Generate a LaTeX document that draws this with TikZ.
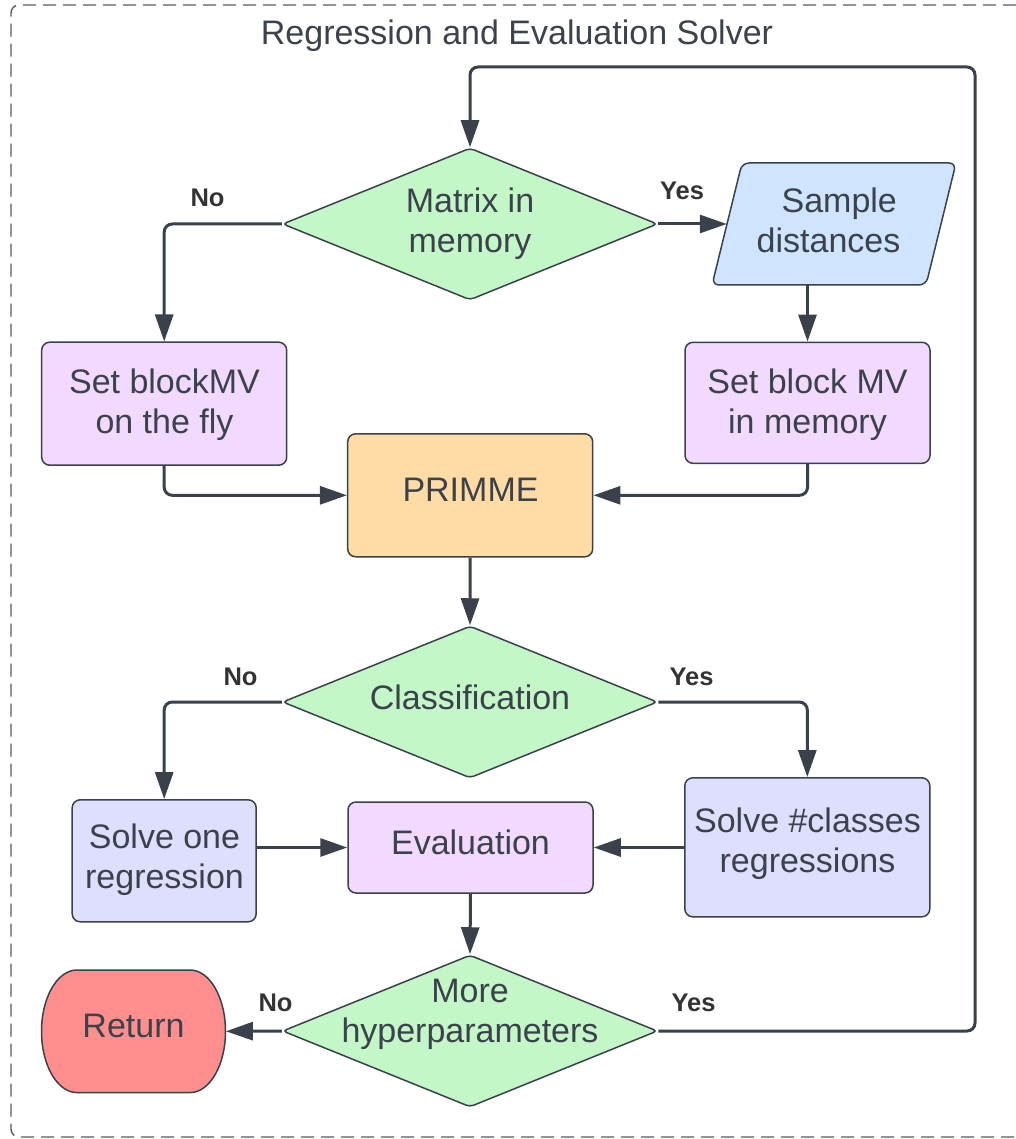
\documentclass[tikz,border=0pt]{standalone}
\usepackage{fontspec}
\setmainfont{Liberation Sans}
\usetikzlibrary{shapes.geometric,arrows.meta}
\definecolor{ink}{HTML}{3A414A}
\definecolor{txt}{HTML}{3B424B}
\definecolor{lbl}{HTML}{333333}
\definecolor{framec}{HTML}{555B63}
\definecolor{dgreen}{HTML}{C3F7C8}
\definecolor{pblue}{HTML}{CFE4FF}
\definecolor{plilac}{HTML}{F2D9FF}
\definecolor{pviolet}{HTML}{DEDEFF}
\definecolor{porange}{HTML}{FFDCA6}
\definecolor{pred}{HTML}{FF8F8F}

\begin{document}
\begin{tikzpicture}[x=1pt,y=-1pt,
  box/.style={draw=ink, line width=1.5pt, rounded corners=8pt, rectangle, inner sep=0pt},
  decision/.style={draw=ink, line width=1.5pt, diamond, rounded corners=4pt, fill=dgreen,
    inner sep=0pt, minimum width=375pt, minimum height=152pt},
  txtnode/.style={text=txt, align=center, inner sep=0pt, font=\fontsize{34}{40}\selectfont},
  lab/.style={text=lbl, inner sep=0pt, font=\fontsize{25.5}{30}\selectfont\bfseries},
  conn/.style={draw=ink, line width=3pt, rounded corners=8pt, -{Triangle[length=27pt,width=18pt]}},
]
\useasboundingbox (0,0) rectangle (1016,1139);

% outer dashed frame (runs off the right edge)
\draw[framec, line width=1.4pt, dash pattern=on 13pt off 7pt, rounded corners=8pt]
  (1016,5) -- (11,5) -- (11,1137) -- (1016,1137);
\node[txtnode, anchor=base] (title) at (517,45) {Regression and Evaluation Solver};

% shapes
\node[decision] (d1) at (470,224) {};
% data parallelogram
\filldraw[fill=pblue, draw=ink, line width=1.5pt, rounded corners=7pt]
  (742,163) -- (956,163) -- (926,285) -- (712,285) -- cycle;
\node[rectangle, inner sep=0pt, minimum width=214pt, minimum height=122pt] (sd) at (834,224) {};
\node[box, fill=plilac, minimum width=245pt, minimum height=123pt] (sb1) at (164.2,403.7) {};
\node[box, fill=plilac, minimum width=245pt, minimum height=121pt] (sb2) at (807.5,402.8) {};
\node[box, fill=porange, minimum width=245pt, minimum height=123pt] (prm) at (470.2,495.3) {};
\node[decision] (d2) at (470,702) {};
\node[box, fill=pviolet, minimum width=184pt, minimum height=122pt] (s1) at (164.2,860.8) {};
\node[box, fill=plilac, minimum width=245pt, minimum height=91pt] (ev) at (470.5,847.5) {};
\node[box, fill=pviolet, minimum width=245pt, minimum height=139pt] (sc) at (807.3,847.3) {};
\node[decision] (d3) at (470,1031) {};

% terminal with elliptic ends
\filldraw[fill=pred, draw=ink, line width=1.5pt] (77,970) -- (190,970)
  arc[start angle=90, end angle=-90, x radius=35.5pt, y radius=61.3pt] -- (77,1092.6)
  arc[start angle=270, end angle=90, x radius=35.5pt, y radius=61.3pt] -- cycle;
\node[rectangle, inner sep=0pt, minimum width=184pt, minimum height=122.6pt] (ret) at (133.7,1031.3) {};

% texts
\node[txtnode] (d1t) at (470,224) {Matrix in\\memory};
\node[txtnode] (sdt) at (828.5,220) {\hspace*{21.5pt}Sample\\distances};
\node[txtnode] (sb1t) at (164.5,405) {Set blockMV\\on the fly};
\node[txtnode] (sb2t) at (807.5,405) {Set block MV\\in memory};
\node[txtnode] (prmt) at (470.5,490) {PRIMME};
\node[txtnode] (d2t) at (470,697) {Classification};
\node[txtnode] (s1t) at (164.5,860) {Solve one\\regression};
\node[txtnode] (evt) at (470.5,842) {Evaluation};
\node[txtnode] (sct) at (807.5,844) {Solve \#classes\\regressions};
\node[txtnode] (d3t) at (470,1014) {More\\hyperparameters};
\node[txtnode] (rett) at (133.5,1026) {Return};

% branch labels
\node[lab] (no1) at (207.5,198) {No};
\node[lab] (yes1) at (682,191) {Yes};
\node[lab] (no2) at (240.5,677) {No};
\node[lab] (yes2) at (691.5,677) {Yes};
\node[lab] (no3) at (275.5,1003) {No};
\node[lab] (yes3) at (693.5,1003) {Yes};

% connectors
\coordinate (loop) at (975,67);
\draw[conn] (d1.east) -- (sd.west);
\draw[conn] (d1.west) -| (sb1.north);
\draw[conn] (sb2.north |- sd.south) -- (sb2.north);
\draw[conn] (sb1.south) |- (prm.west);
\draw[conn] (sb2.south) |- (prm.east);
\draw[conn] (prm.south) -- (d2.north);
\draw[conn] (d2.west) -| (s1.north);
\draw[conn] (d2.east) -| (sc.north);
\draw[conn] (s1.east |- ev.west) -- (ev.west);
\draw[conn] (sc.west |- ev.east) -- (ev.east);
\draw[conn] (ev.south) -- (d3.north);
\draw[conn] (d3.west) -- (ret.east);
\draw[conn] (d3.east) -| (loop) -| (d1.north);
\end{tikzpicture}
\end{document}
